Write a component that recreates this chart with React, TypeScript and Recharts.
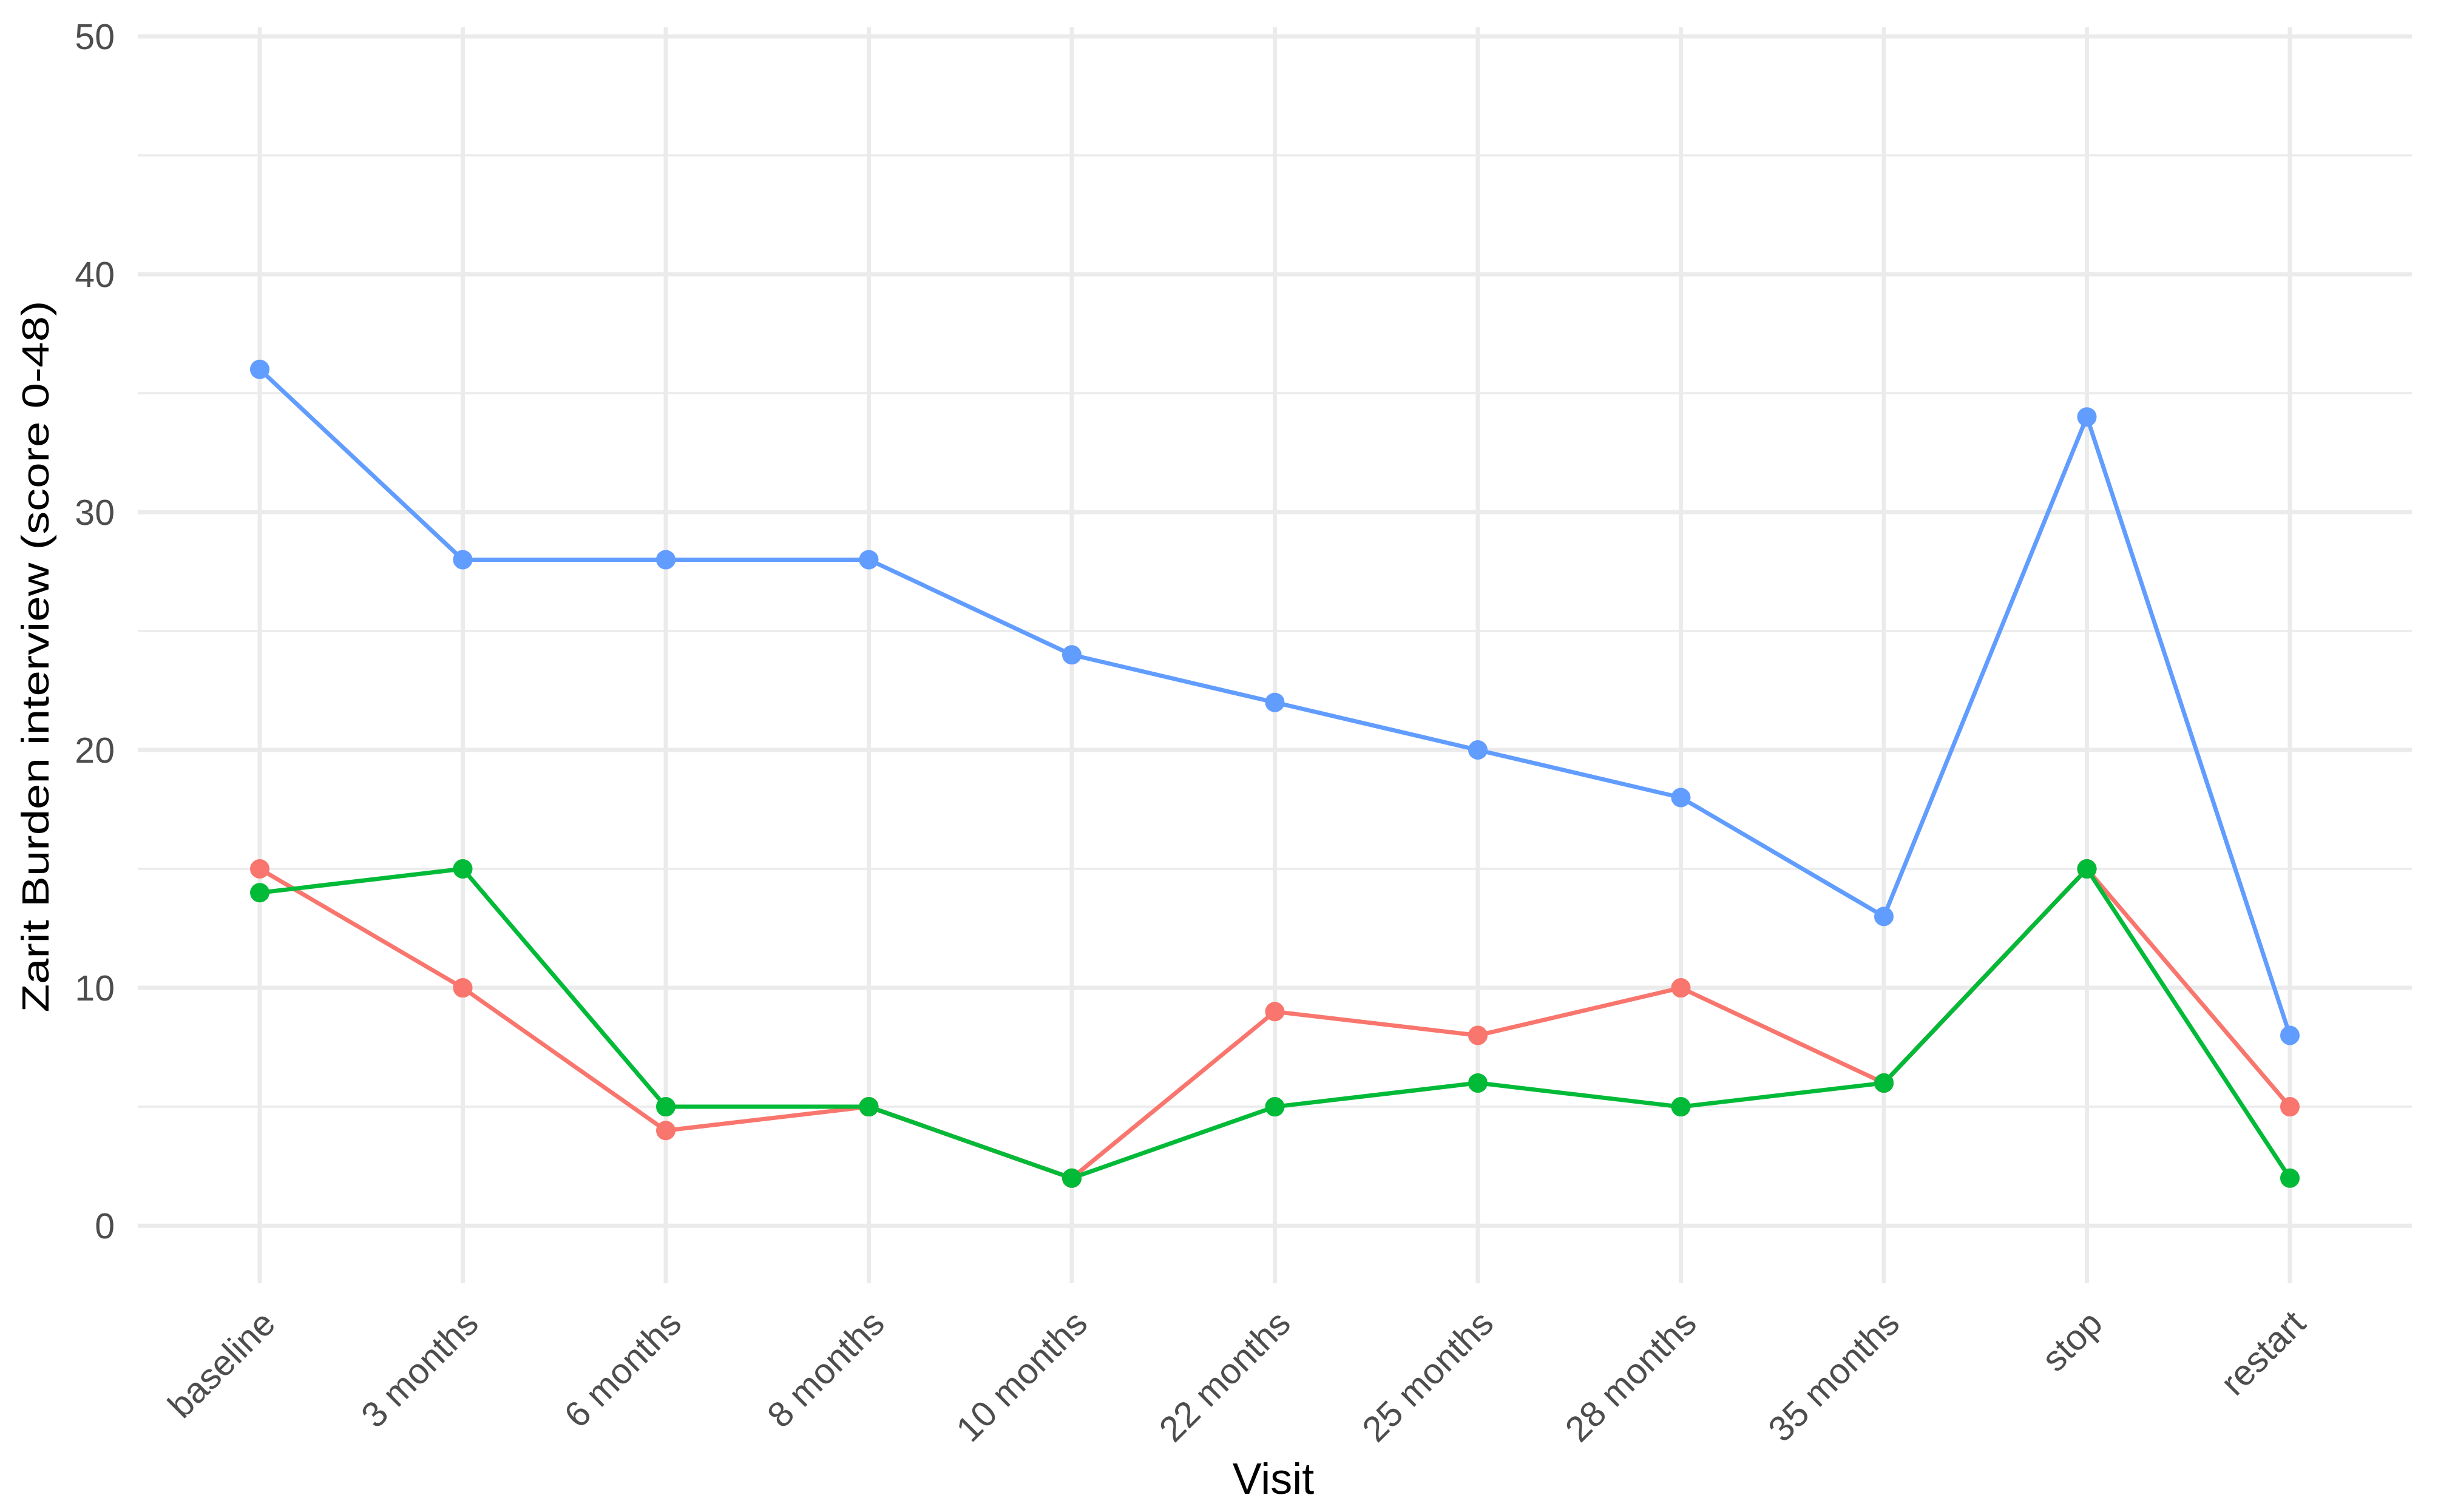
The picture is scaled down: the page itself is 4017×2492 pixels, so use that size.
import React from 'react';
import { LineChart, Line, XAxis, YAxis, ReferenceLine } from 'recharts';

const visits = ['baseline', '3 months', '6 months', '8 months', '10 months', '22 months', '25 months', '28 months', '35 months', 'stop', 'restart'];
const redValues = [15, 10, 4, 5, 2, 9, 8, 10, 6, 15, 5];
const greenValues = [14, 15, 5, 5, 2, 5, 6, 5, 6, 15, 2];
const blueValues = [36, 28, 28, 28, 24, 22, 20, 18, 13, 34, 8];
const majorTicks = [0, 10, 20, 30, 40, 50];
const minorTicks = [5, 15, 25, 35, 45];

const data = visits.map((v, i) => ({ visit: v, red: redValues[i], green: greenValues[i], blue: blueValues[i] }));

const FONT = '"Liberation Sans", Arial, sans-serif';
const GRID = '#EBEBEB';

const XTick = (props: any) => {
  const { x, y, payload } = props;
  return (
    <text
      x={0}
      y={0}
      transform={`translate(${x + 29},${y + 70}) rotate(-45)`}
      textAnchor="end"
      fill="#4D4D4D"
      fontSize={59}
      fontFamily={FONT}
    >
      {payload.value}
    </text>
  );
};

const XTitle = () => (
  <text x={2098} y={2462} textAnchor="middle" fontSize={72} fontFamily={FONT} fill="#000000">
    Visit
  </text>
);

const YTitle = () => (
  <text
    x={0}
    y={0}
    transform="translate(80,1082) rotate(-90)"
    textAnchor="middle"
    fontSize={63}
    fontFamily={FONT}
    fill="#000000"
    textLength={1173}
    lengthAdjust="spacingAndGlyphs"
  >
    Zarit Burden interview (score 0-48)
  </text>
);

export default function App() {
  return (
    <div style={{ position: 'absolute', left: 0, top: 0, width: 4017, height: 2492, background: '#ffffff' }}>
      <LineChart width={4017} height={2492} data={data} margin={{ top: 45, right: 43, bottom: 0, left: 0 }}>
        {minorTicks.map((t) => (
          <ReferenceLine key={`mi${t}`} y={t} stroke={GRID} strokeWidth={3.5} />
        ))}
        {majorTicks.map((t) => (
          <ReferenceLine key={`ma${t}`} y={t} stroke={GRID} strokeWidth={7} />
        ))}
        {visits.map((v) => (
          <ReferenceLine key={`v${v}`} x={v} stroke={GRID} strokeWidth={7} />
        ))}
        <XAxis
          dataKey="visit"
          type="category"
          height={377}
          padding={{ left: 201, right: 201 }}
          axisLine={false}
          tickLine={false}
          tickSize={0}
          tickMargin={0}
          interval={0}
          tick={XTick}
          label={{ content: XTitle }}
        />
        <YAxis
          type="number"
          width={227}
          domain={[-2.42, 50.38]}
          ticks={majorTicks}
          allowDataOverflow
          axisLine={false}
          tickLine={false}
          tickSize={0}
          tickMargin={38}
          tick={{ fill: '#4D4D4D', fontSize: 59, fontFamily: FONT }}
          label={{ content: YTitle }}
        />
        <Line type="linear" dataKey="red" stroke="#F8766D" strokeWidth={7} dot={{ r: 16, fill: '#F8766D', stroke: 'none' }} activeDot={false} isAnimationActive={false} />
        <Line type="linear" dataKey="green" stroke="#00BA38" strokeWidth={7} dot={{ r: 16, fill: '#00BA38', stroke: 'none' }} activeDot={false} isAnimationActive={false} />
        <Line type="linear" dataKey="blue" stroke="#619CFF" strokeWidth={7} dot={{ r: 16, fill: '#619CFF', stroke: 'none' }} activeDot={false} isAnimationActive={false} />
      </LineChart>
    </div>
  );
}
